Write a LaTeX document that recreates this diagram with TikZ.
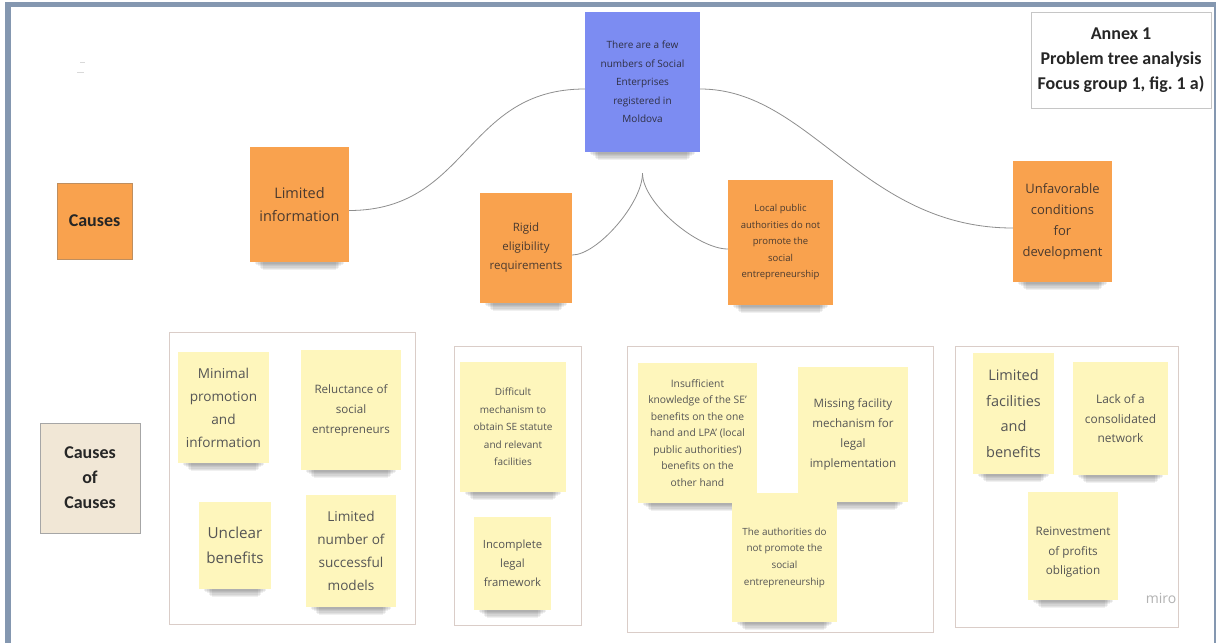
\documentclass[tikz,border=0pt]{standalone}
\usepackage{fontspec}
\setmainfont{Open Sans}
\newfontfamily\calibri{Carlito}
\definecolor{framecol}{HTML}{8497B0}
\definecolor{orangenote}{HTML}{F9A24E}
\definecolor{bluenote}{HTML}{7C8CF2}
\definecolor{yellownote}{HTML}{FEF6BC}
\definecolor{beigebox}{HTML}{F1E7D6}
\definecolor{groupline}{HTML}{DACDC8}
\definecolor{linkcol}{HTML}{8E8E8E}
\definecolor{inkbrown}{HTML}{4A3A2F}
\definecolor{inkgrey}{HTML}{555555}
\definecolor{inkblue}{HTML}{2F3045}
\pgfdeclarelayer{paper}
\pgfdeclarelayer{shade}
\pgfsetlayers{paper,shade,main}
\newcommand\fsz[2]{\fontsize{#1}{#2}\selectfont}
% soft shadow under the lower edge of a sticky note
\newcommand\noteshade[1]{%
  \begin{pgfonlayer}{shade}
    \foreach \k in {0,...,5}{%
      \fill[black,opacity=0.06]
        ([xshift={5pt+1.6pt*\k},yshift=5pt]#1.south west) rectangle
        ([xshift={-5pt-1.6pt*\k},yshift={-1.5pt-1.3pt*\k}]#1.south east);}
  \end{pgfonlayer}}
\tikzset{
  note/.style={rectangle, inner sep=0pt, align=center},
  orangenote/.style={note, fill=orangenote, text=inkbrown},
  bluenote/.style={note, fill=bluenote, text=inkblue},
  yellownote/.style={note, fill=yellownote, text=inkgrey},
  labelbox/.style={rectangle, inner sep=0pt, align=center, line width=0.8pt,
    font=\calibri\bfseries\fsz{18}{25}},
  groupframe/.style={draw=groupline, line width=1pt},
  link/.style={draw=linkcol, line width=0.8pt},
}
\begin{document}
\begin{tikzpicture}[x=1pt,y=-1pt]
\useasboundingbox (0,0) rectangle (1216,643);
\begin{pgfonlayer}{paper}
  \fill[white] (0,0) rectangle (1216,643);
\end{pgfonlayer}

% page border
\fill[framecol] (5,2) rectangle (11,643);
\fill[framecol] (5,2) rectangle (1216,7);
\fill[framecol] (1214,2) rectangle (1216,643);

% faint marks near the top left corner
\draw[gray!30, line width=0.8pt] (80,62) -- (85,62);
\draw[gray!30, line width=0.8pt] (77,72) -- (84,72);

% row labels
\node[labelbox, fill=orangenote, draw=orangenote!70!black!80, text=black!85,
      minimum width=75pt, minimum height=76pt] (causes) at (94.5,221) {Causes};
\node[labelbox, fill=beigebox, draw=gray!70, text=black!85,
      minimum width=100pt, minimum height=110pt] (coc) at (90,478) {Causes\\of\\Causes};

% title box
\node[labelbox, fill=white, draw=gray!45, text=black!85, font=\calibri\bfseries\fsz{18}{25},
      minimum width=180pt, minimum height=96pt] (annex) at (1121,60)
      {Annex 1\\Problem tree analysis\\Focus group 1, fig.\ 1 a)};

% central problem
\node[bluenote, minimum width=115pt, minimum height=140pt, font=\fsz{10}{18.5}]
  (prob) at (642.5,82)
  {There are a few\\numbers of Social\\Enterprises\\registered in\\Moldova};
\noteshade{prob}

% causes
\node[orangenote, minimum width=99pt, minimum height=115pt, font=\fsz{14.5}{23}]
  (li) at (299.5,204.5) {Limited\\information};
\noteshade{li}
\node[orangenote, minimum width=92pt, minimum height=110pt, font=\fsz{11.5}{19}]
  (rig) at (526,248) {Rigid\\eligibility\\requirements};
\noteshade{rig}
\node[orangenote, minimum width=105pt, minimum height=125pt, font=\fsz{9.5}{16.5}]
  (loc) at (780.5,242.5)
  {Local public\\authorities do not\\promote the\\social\\entrepreneurship};
\noteshade{loc}
\node[orangenote, minimum width=99pt, minimum height=121pt, font=\fsz{13}{21}]
  (unf) at (1062.5,221.5) {Unfavorable\\conditions\\for\\development};
\noteshade{unf}

% connectors
\coordinate (cusp) at ([yshift=-21pt]prob.south);
\draw[link] ([yshift=-6pt]li.east) .. controls +(120,0) and +(-120,0) .. ([yshift=-7pt]prob.west);
\draw[link] ([yshift=-7pt]prob.east) .. controls +(110,0) and +(-150,0) .. ([yshift=-6.5pt]unf.west);
\draw[link] ([yshift=-7pt]rig.east) .. controls +(25,0) and +(0,30) .. (cusp);
\draw[link] (cusp) .. controls +(0,30) and +(-30,0) .. ([yshift=-6.5pt]loc.west);

% groups of causes of causes
\draw[groupframe] (169,332) rectangle (415,624);
\draw[groupframe] (454,346) rectangle (581,625);
\draw[groupframe] (627,346) rectangle (933,632);
\draw[groupframe] (955,346) rectangle (1178,627);

% group 1
\node[yellownote, minimum width=91pt, minimum height=111pt, font=\fsz{13.6}{23}]
  (min) at (223.5,407.5) {Minimal\\promotion\\and\\information};
\noteshade{min}
\node[yellownote, minimum width=100pt, minimum height=120pt, font=\fsz{11.6}{20}]
  (rel) at (351,410) {Reluctance of\\social\\entrepreneurs};
\noteshade{rel}
\node[yellownote, minimum width=72pt, minimum height=87pt, font=\fsz{15.2}{25}]
  (unc) at (235,545.5) {Unclear\\benefits};
\noteshade{unc}
\node[yellownote, minimum width=90pt, minimum height=112pt, font=\fsz{13.6}{23}]
  (lnum) at (351,551) {Limited\\number of\\successful\\models};
\noteshade{lnum}

% group 2
\node[yellownote, minimum width=106pt, minimum height=130pt, font=\fsz{10}{17.5}]
  (dif) at (513,427) {Difficult\\mechanism to\\obtain SE statute\\and relevant\\facilities};
\noteshade{dif}
\node[yellownote, minimum width=77pt, minimum height=93pt, font=\fsz{11.3}{19}]
  (inc) at (512.5,563.5) {Incomplete\\legal\\framework};
\noteshade{inc}

% group 3
\node[yellownote, minimum width=119pt, minimum height=140pt, font=\fsz{10.3}{16.5}]
  (ins) at (697.5,433)
  {Insufficient\\knowledge of the SE'\\benefits on the one\\hand and LPA' (local\\public authorities')\\benefits on the\\other hand};
\noteshade{ins}
\node[yellownote, minimum width=110pt, minimum height=135pt, font=\fsz{11.6}{20}]
  (mis) at (853,434.5) {Missing facility\\mechanism for\\legal\\implementation};
\noteshade{mis}
\node[yellownote, minimum width=105pt, minimum height=129pt, font=\fsz{9.9}{16.7}]
  (aut) at (784.5,557.5) {The authorities do\\not promote the\\social\\entrepreneurship};
\noteshade{aut}

% group 4
\node[yellownote, minimum width=81pt, minimum height=121pt, font=\fsz{14.5}{25.5}]
  (lfac) at (1013.5,413.5) {Limited\\facilities\\and\\benefits};
\noteshade{lfac}
\node[yellownote, minimum width=95pt, minimum height=113pt, font=\fsz{11.9}{19.5}]
  (lack) at (1120.5,418.5) {Lack of a\\consolidated\\network};
\noteshade{lack}
\node[yellownote, minimum width=90pt, minimum height=108pt,
  label={[text=inkgrey, align=center, font=\fsz{11.7}{19.5}, yshift=-6.5pt]center:Reinvestment\\of profits\\obligation}]
  (rei) at (1073,546) {};
\noteshade{rei}

\node[text=gray!60, font=\fsz{14}{16}, inner sep=0pt] (miro) at (1161,598) {miro};
\end{tikzpicture}
\end{document}
